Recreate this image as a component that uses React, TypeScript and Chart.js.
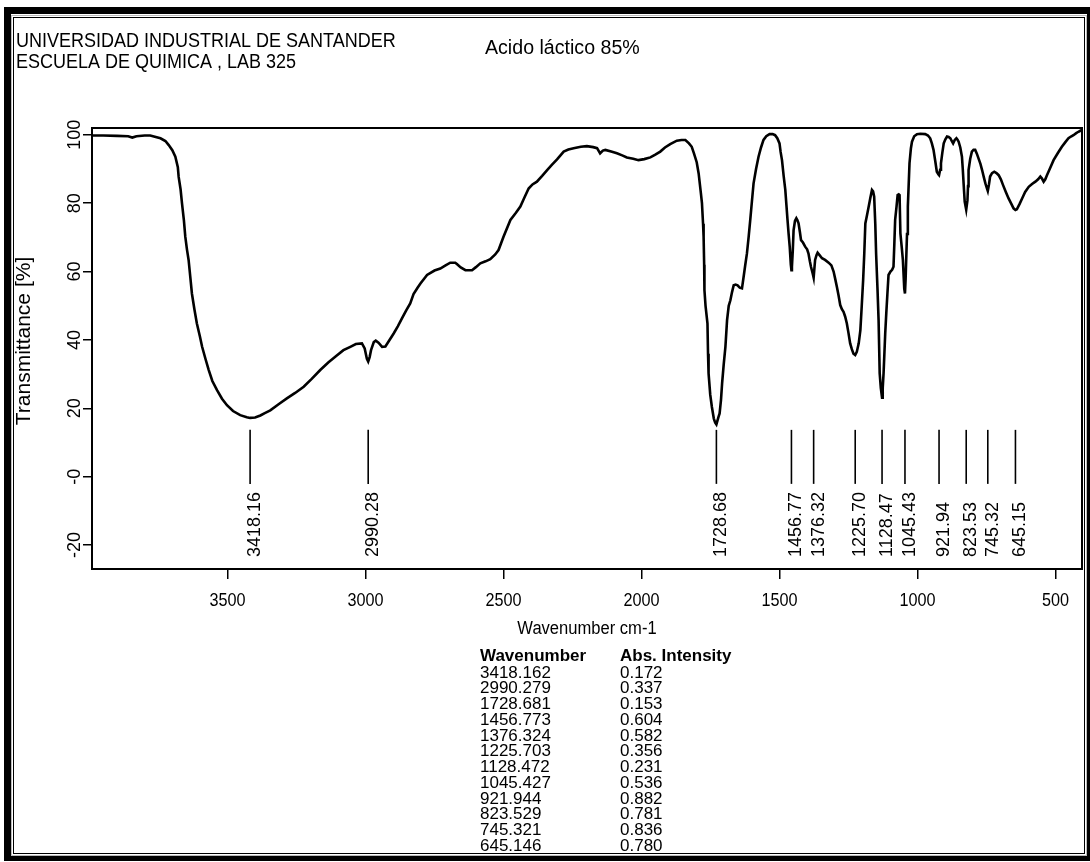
import { useEffect, useRef } from 'react';
import { Chart, registerables } from 'chart.js';

Chart.register(...registerables);

// ---------- data ----------
const wavenumbers = [
  3991, 3950, 3900, 3860, 3845, 3830, 3800, 3780, 3760, 3743, 3725, 3713, 3700, 3689, 3680, 3677, 3670, 3665, 3658, 3653,
  3647, 3641, 3635, 3629, 3620, 3611, 3600, 3592, 3580, 3568, 3555, 3538, 3520, 3502, 3480, 3454, 3430, 3418.162, 3400, 3381,
  3365, 3345, 3315, 3285, 3255, 3224, 3195, 3164, 3135, 3103, 3080, 3055, 3035, 3013, 3003, 2995, 2990.279, 2985, 2980, 2970,
  2963, 2953, 2940, 2928, 2913, 2898, 2883, 2868, 2853, 2838, 2826, 2812, 2801, 2777, 2750, 2729, 2710, 2693, 2675, 2669,
  2655, 2638, 2614, 2600, 2584, 2565, 2548, 2530, 2518, 2500, 2475, 2455, 2439, 2425, 2409, 2395, 2379, 2360, 2342, 2325,
  2306, 2282, 2265, 2246, 2220, 2198, 2175, 2161, 2150, 2140, 2131, 2110, 2089, 2070, 2053, 2030, 2011, 1990, 1968, 1950,
  1932, 1915, 1896, 1872, 1855, 1841, 1828, 1818, 1810, 1800, 1793, 1785, 1781, 1777, 1775, 1773, 1772, 1768, 1761, 1759,
  1757, 1751, 1745, 1738, 1733, 1728.681, 1721, 1717, 1712, 1708, 1702, 1696, 1690, 1684, 1678, 1672, 1666, 1659, 1652, 1644,
  1636, 1630, 1624, 1618, 1612, 1606, 1600, 1594, 1585, 1576, 1567, 1558, 1548, 1536, 1525, 1516, 1508, 1500, 1496, 1491,
  1485, 1479, 1475, 1471, 1467, 1463, 1459, 1456.773, 1455, 1452, 1449, 1444, 1439, 1435, 1431, 1426, 1422, 1415, 1407, 1400,
  1395, 1390, 1386, 1380, 1376.324, 1373, 1371, 1366, 1362, 1355, 1346, 1335, 1322, 1312, 1304, 1298, 1292, 1286, 1280, 1274,
  1268, 1262, 1256, 1250, 1244, 1238, 1232, 1225.703, 1220, 1213, 1207, 1202, 1197, 1193, 1189, 1183, 1177, 1171, 1165, 1161,
  1157, 1153, 1150, 1145, 1141, 1137, 1133, 1128.472, 1126, 1123, 1120, 1117, 1113, 1109, 1105, 1098, 1092, 1087, 1084, 1081,
  1076, 1072, 1068, 1065, 1062, 1057, 1053, 1048, 1045.427, 1043, 1041, 1038, 1035, 1029, 1024, 1020, 1012, 1002, 990, 972,
  962, 954, 948, 942, 936, 930, 924, 921.944, 918, 915, 910, 905, 899, 893, 887, 881, 876, 871, 865, 859,
  855, 851, 845, 839, 836, 833, 829, 823.529, 819, 817, 815, 809, 803, 797, 791, 785, 779, 772, 766, 760,
  754, 749, 745.321, 741, 737, 730, 722, 714, 706, 698, 690, 680, 670, 660, 652, 645.146, 640, 630, 621, 610,
  597, 585, 573, 563, 555, 549, 543, 537, 531, 519, 507, 492, 477, 465, 453, 444, 435, 425, 417, 410,
  404,
];

const transmittance = [
  99.8, 99.8, 99.7, 99.6, 99.2, 99.6, 99.8, 99.8, 99.4, 99.0, 98.2, 97.0, 95.5, 93.6, 90.5, 87.7, 84.0, 80.0, 75.0, 70.2,
  66.5, 63.4, 58.5, 53.6, 49.0, 44.8, 41.0, 38.0, 34.5, 31.2, 28.0, 25.3, 22.8, 20.9, 19.2, 18.0, 17.4, 17.2, 17.3, 17.9,
  18.6, 19.4, 21.2, 22.9, 24.5, 26.3, 28.6, 31.2, 33.4, 35.5, 37.0, 38.0, 38.8, 39.0, 37.5, 34.5, 33.7, 35.0, 37.0, 39.4,
  39.8, 39.2, 38.0, 38.1, 40.0, 41.9, 44.0, 46.3, 48.6, 50.7, 53.4, 55.2, 56.5, 59.0, 60.3, 60.9, 61.8, 62.6, 62.6, 62.2,
  61.2, 60.4, 60.4, 61.3, 62.4, 63.0, 63.6, 65.0, 66.3, 70.2, 75.1, 77.2, 79.0, 81.5, 84.3, 85.5, 86.3, 88.0, 89.7, 91.2,
  92.8, 95.1, 95.7, 96.1, 96.5, 96.7, 96.4, 96.1, 94.6, 95.4, 95.6, 95.1, 94.6, 94.0, 93.4, 93.0, 92.6, 92.9, 93.4, 94.2,
  95.1, 96.3, 97.3, 98.3, 98.5, 98.5, 97.5, 96.5, 94.6, 92.0, 88.7, 83.0, 80.0, 74.0, 70.2, 62.0, 54.6, 50.0, 44.8, 36.0,
  30.2, 24.0, 20.4, 17.0, 15.8, 15.3, 17.5, 18.5, 22.5, 27.3, 33.0, 38.0, 45.8, 50.0, 51.6, 54.0, 56.0, 56.2, 56.0, 55.3,
  55.1, 58.5, 62.0, 65.3, 70.0, 75.1, 80.5, 85.8, 90.0, 93.6, 96.3, 98.5, 99.6, 100.2, 100.2, 99.9, 99.0, 97.5, 95.0, 92.6,
  88.0, 83.9, 79.5, 75.1, 71.0, 67.3, 62.0, 60.4, 61.4, 66.0, 72.1, 74.8, 75.6, 75.0, 74.1, 71.5, 69.2, 68.5, 67.3, 66.5,
  65.3, 63.0, 61.4, 59.5, 58.2, 61.5, 63.4, 64.8, 65.5, 64.8, 63.9, 63.4, 62.6, 61.8, 60.0, 57.8, 55.5, 53.0, 50.2, 49.0,
  48.2, 46.8, 44.8, 42.0, 39.0, 37.3, 36.0, 35.6, 36.5, 39.0, 42.9, 50.0, 57.5, 65.0, 74.1, 76.5, 79.0, 81.5, 83.9, 83.5,
  81.9, 74.0, 65.3, 55.0, 45.8, 30.2, 26.0, 23.1, 26.0, 30.2, 36.0, 41.9, 48.0, 53.6, 59.0, 60.0, 60.5, 61.4, 68.0, 75.1,
  79.0, 82.4, 82.6, 82.4, 71.2, 67.0, 63.4, 55.0, 53.6, 58.0, 63.4, 71.0, 79.0, 91.7, 96.0, 98.0, 99.6, 100.2, 100.3, 100.2,
  99.8, 99.0, 97.5, 95.6, 92.5, 89.2, 88.4, 88.2, 89.8, 91.7, 94.8, 97.5, 98.7, 99.5, 99.4, 99.0, 98.2, 97.5, 98.5, 99.0,
  98.6, 98.0, 96.3, 93.6, 90.0, 85.8, 80.5, 78.1, 80.9, 85.0, 89.7, 93.0, 95.1, 95.6, 95.6, 94.5, 93.1, 91.5, 89.7, 87.7,
  85.8, 84.5, 83.6, 85.5, 87.8, 88.8, 89.2, 88.8, 88.2, 87.0, 85.3, 83.3, 81.4, 79.8, 78.5, 78.0, 78.2, 79.8, 81.4, 83.3,
  84.8, 85.6, 86.3, 87.0, 87.8, 87.2, 86.3, 87.0, 88.2, 90.4, 92.6, 94.6, 96.5, 97.8, 99.0, 99.5, 99.9, 100.5, 100.9, 101.2,
  101.4,
];

const xTicks = [3500, 3000, 2500, 2000, 1500, 1000, 500];
const yTicks = [100, 80, 60, 40, 20, 0, -20];
const yTickLabels = ['100', '80', '60', '40', '20', '-0', '-20'];

const peakWavenumbers = [3418.162, 2990.279, 1728.681, 1456.773, 1376.324, 1225.703, 1128.472, 1045.427, 921.944, 823.529, 745.321, 645.146];
const peakLabels = ['3418.16', '2990.28', '1728.68', '1456.77', '1376.32', '1225.70', '1128.47', '1045.43', '921.94', '823.53', '745.32', '645.15'];
const tableWavenumbers = ['3418.162', '2990.279', '1728.681', '1456.773', '1376.324', '1225.703', '1128.472', '1045.427', '921.944', '823.529', '745.321', '645.146'];
const tableIntensities = ['0.172', '0.337', '0.153', '0.604', '0.582', '0.356', '0.231', '0.536', '0.882', '0.781', '0.836', '0.780'];

const headerLine1 = 'UNIVERSIDAD INDUSTRIAL DE SANTANDER';
const headerLine2 = 'ESCUELA DE QUIMICA , LAB 325';
const sampleTitle = 'Acido láctico 85%';
const xTitle = 'Wavenumber cm-1';
const yTitle = 'Transmittance [%]';
const tableHead = ['Wavenumber', 'Abs. Intensity'];

const FONT = '"Liberation Sans", Arial, Helvetica, sans-serif';

function text(ctx: CanvasRenderingContext2D, s: string, x: number, y: number, font: string, align: CanvasTextAlign = 'left', sx = 1, rot = 0) {
  ctx.save();
  ctx.font = font;
  ctx.textAlign = align;
  ctx.textBaseline = 'alphabetic';
  ctx.fillStyle = '#000';
  ctx.translate(x, y);
  if (rot) ctx.rotate(rot);
  ctx.scale(sx, 1);
  ctx.fillText(s, 0, 0);
  ctx.restore();
}

const decorPlugin = {
  id: 'decor',
  afterDraw(chart: any) {
    const ctx: CanvasRenderingContext2D = chart.ctx;
    const { left, right, top, bottom } = chart.chartArea;
    const xs = chart.scales.x;
    const ys = chart.scales.y;
    ctx.save();

    // page frame
    ctx.fillStyle = '#000';
    ctx.fillRect(4, 7, 1086, 7);
    ctx.fillRect(4, 7, 7, 853);
    ctx.fillRect(4, 856, 1086, 5);
    ctx.fillRect(1087, 7, 3, 853);
    ctx.strokeStyle = '#000';
    ctx.lineWidth = 1;
    ctx.strokeRect(13.5, 17.5, 1071, 836);
    ctx.strokeStyle = '#bbb';
    ctx.strokeRect(11.5, 15.5, 1075, 840);

    // header texts
    text(ctx, headerLine1, 16, 47, `20px ${FONT}`, 'left', 0.9);
    text(ctx, headerLine2, 16, 68, `20px ${FONT}`, 'left', 0.9);
    text(ctx, sampleTitle, 485, 54, `20px ${FONT}`, 'left', 0.98);

    // plot box
    ctx.strokeStyle = '#000';
    ctx.lineWidth = 2;
    ctx.strokeRect(left, top, right - left, bottom - top);

    // y tick labels (rotated)
    yTicks.forEach((v, i) => {
      const y = ys.getPixelForValue(v);
      text(ctx, yTickLabels[i], 80, y, `18px ${FONT}`, 'center', 1, -Math.PI / 2);
    });

    // x tick labels
    xTicks.forEach((v) => {
      const x = xs.getPixelForValue(v);
      text(ctx, String(v), x, 606, `18px ${FONT}`, 'center', 0.9);
    });

    // axis titles
    text(ctx, xTitle, (left + right) / 2, 634, `18px ${FONT}`, 'center', 0.92);
    text(ctx, yTitle, 30, 341, `21px ${FONT}`, 'center', 1, -Math.PI / 2);

    // peak markers
    const yLineTop = ys.getPixelForValue(13.7);
    const yLineBot = ys.getPixelForValue(-2.1);
    const yLabel = ys.getPixelForValue(-23.5);
    ctx.strokeStyle = '#000';
    ctx.lineWidth = 1.6;
    peakWavenumbers.forEach((w, i) => {
      const x = xs.getPixelForValue(w);
      ctx.beginPath();
      ctx.moveTo(x, yLineTop);
      ctx.lineTo(x, yLineBot);
      ctx.stroke();
      text(ctx, peakLabels[i], x + 10, yLabel, `18px ${FONT}`, 'left', 1, -Math.PI / 2);
    });

    // peak table
    text(ctx, tableHead[0], 480, 661, `bold 17px ${FONT}`, 'left');
    text(ctx, tableHead[1], 620, 661, `bold 17px ${FONT}`, 'left');
    tableWavenumbers.forEach((w, i) => {
      const y = 677.5 + i * 15.75;
      text(ctx, w, 480, y, `17px ${FONT}`, 'left');
      text(ctx, tableIntensities[i], 620, y, `17px ${FONT}`, 'left');
    });

    ctx.restore();
  },
};

export default function App() {
  const ref = useRef<HTMLCanvasElement | null>(null);

  useEffect(() => {
    document.body.style.margin = '0';
    const canvas = ref.current;
    if (!canvas) return;
    const points = wavenumbers.map((w, i) => ({ x: w, y: transmittance[i] }));
    const chart = new Chart(canvas, {
      type: 'line',
      data: {
        datasets: [
          {
            data: points,
            borderColor: '#000',
            borderWidth: 2.6,
            pointRadius: 0,
            tension: 0,
            fill: false,
          },
        ],
      },
      options: {
        animation: false,
        responsive: false,
        devicePixelRatio: 1,
        parsing: false as any,
        layout: { padding: { left: 0, top: 128, right: 8, bottom: 253 } },
        plugins: { legend: { display: false }, tooltip: { enabled: false }, title: { display: false } },
        scales: {
          x: {
            type: 'linear',
            reverse: true,
            min: 404,
            max: 3991,
            afterBuildTicks: (s: any) => {
              s.ticks = xTicks.map((v) => ({ value: v }));
            },
            afterFit: (s: any) => {
              s.height = 40;
            },
            ticks: { display: false },
            grid: { display: true, drawOnChartArea: false, drawTicks: true, tickLength: 10, color: '#000', lineWidth: 1.5 },
            border: { display: false },
          },
          y: {
            type: 'linear',
            min: -27,
            max: 102,
            afterBuildTicks: (s: any) => {
              s.ticks = yTicks.map((v) => ({ value: v }));
            },
            afterFit: (s: any) => {
              s.width = 92;
            },
            ticks: { display: false },
            grid: { display: true, drawOnChartArea: false, drawTicks: true, tickLength: 9, color: '#000', lineWidth: 1.5 },
            border: { display: false },
          },
        },
      },
      plugins: [decorPlugin],
    });
    return () => chart.destroy();
  }, []);

  return (
    <div style={{ width: 1090, height: 862, background: '#fff' }}>
      <canvas ref={ref} width={1090} height={862} style={{ display: 'block', width: 1090, height: 862 }} />
    </div>
  );
}
